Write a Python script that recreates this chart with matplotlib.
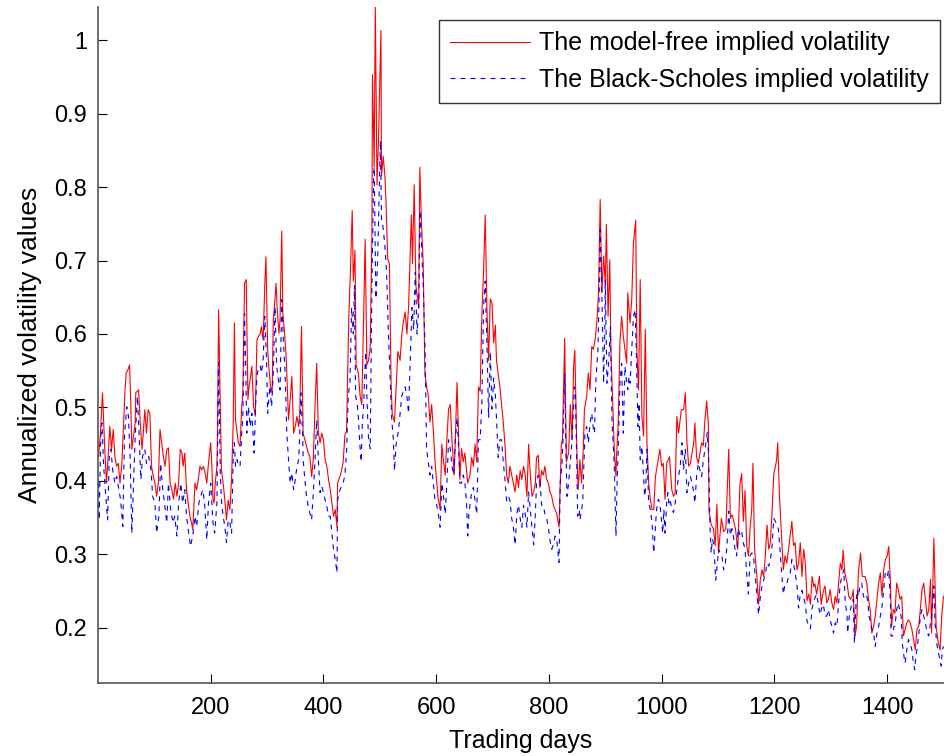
import numpy as np
import matplotlib
matplotlib.use("Agg")
import matplotlib.pyplot as plt

plt.rcParams['font.family'] = ['Liberation Sans', 'DejaVu Sans']

# model-free implied volatility (red)
mf_days = [1, 4, 8, 12, 15, 18, 21, 24, 27, 30, 33, 36, 39, 42, 45, 48, 50, 53, 56, 58, 60, 63, 66, 67, 72, 75, 78, 80, 83, 86, 89, 92, 95, 98, 101, 104, 107, 110, 113, 116, 119, 122, 125, 128, 131, 134, 137, 140, 143, 146, 149, 151, 154, 157, 160, 163, 166, 168, 170, 172, 175, 178, 181, 184, 187, 190, 193, 196, 200, 202, 204, 206, 208, 211, 212, 214,
           219, 222, 225, 228, 231, 234, 237, 240, 242, 244, 247, 249, 252, 255, 257, 260, 263, 266, 268, 270, 273, 276, 279, 282, 285, 288, 290, 293, 296, 298, 301, 303, 306, 309, 311, 314, 316, 318, 321, 323, 326, 328, 331, 333, 335, 338, 341, 344, 347, 350, 353, 356, 358, 361, 364, 367, 370, 373, 376, 379, 382, 385, 388, 391, 394, 397, 400, 403, 406, 409, 412, 415, 418, 421,
           424, 425, 430, 432, 435, 438, 441, 445, 448, 451, 453, 456, 458, 462, 465, 468, 471, 474, 477, 480, 483, 486, 487, 490, 492, 495, 498, 502, 503, 506, 509, 511, 514, 517, 520, 522, 526, 529, 532, 536, 539, 542, 545, 548, 551, 556, 558, 561, 564, 569, 571, 574, 577, 580, 583, 586, 589, 592, 595, 598, 603, 607, 610, 613, 616, 619, 622, 625, 628, 632, 637, 640, 642, 645, 648,
           651, 656, 660, 663, 666, 669, 672, 675, 678, 681, 684, 687, 690, 693, 696, 699, 702, 705, 707, 710, 713, 716, 719, 722, 725, 728, 731, 734, 737, 740, 743, 746, 749, 752, 755, 758, 761, 764, 767, 770, 773, 776, 778, 781, 784, 787, 790, 793, 796, 799, 802, 805, 808, 811, 814, 818, 822, 824, 828, 831, 835, 838, 841, 844, 846,
           850, 852, 855, 858, 861, 863, 867, 870, 873, 876, 879, 882, 885, 888, 891, 894, 897, 900, 902, 905, 908, 910, 913, 916, 919, 920, 923, 926, 929, 932, 935, 938, 940, 944, 947, 950, 954, 956, 959, 962, 965, 968, 971, 974, 977, 980, 983, 986, 989, 993, 997, 1000, 1003, 1006, 1009, 1014, 1018, 1021, 1024, 1027, 1030, 1035, 1039, 1042, 1045, 1048, 1051, 1054, 1057, 1059, 1062, 1065, 1071,
           1074, 1077, 1080, 1083, 1084, 1088, 1092, 1095, 1098, 1101, 1106, 1110, 1114, 1119, 1122, 1125, 1128, 1131, 1135, 1139, 1142, 1145, 1148, 1151, 1154, 1157, 1160, 1162, 1165, 1169, 1172, 1175, 1178, 1181, 1184, 1187, 1190, 1193, 1196, 1199, 1202, 1204, 1206, 1209, 1212, 1216, 1219, 1222, 1226, 1231, 1234, 1237, 1240, 1243, 1246, 1249, 1252, 1255, 1258, 1261, 1264, 1267, 1270, 1272, 1275, 1280, 1283, 1287,
           1290, 1293, 1296, 1299, 1302, 1305, 1308, 1311, 1314, 1317, 1320, 1322, 1325, 1329, 1332, 1335, 1338, 1340, 1343, 1346, 1349, 1353, 1356, 1361, 1364, 1367, 1370, 1373, 1376, 1379, 1382, 1385, 1388, 1391, 1394, 1397, 1400, 1403, 1406, 1408, 1411, 1414, 1417, 1420, 1423, 1426, 1429, 1432, 1435, 1438, 1441, 1444, 1447, 1450, 1453, 1456, 1459, 1462, 1465, 1468, 1471, 1474, 1477, 1479, 1483, 1487, 1491, 1494, 1497, 1500]
mf_vals = [.433, .461, .520, .443, .397, .433, .474, .443, .470, .433, .420, .424, .397, .420, .470, .524, .547, .551, .558, .511, .443, .461, .479, .520, .524, .479, .443, .461, .497, .465, .497, .492, .420, .406, .397, .379, .397, .470, .452, .433, .420, .443, .445, .397, .388, .375, .397, .379, .397, .443, .438, .420, .438, .388, .370, .352, .343, .334, .361, .397, .388, .402, .420, .415, .420, .411, .397, .424, .452, .420, .375, .370, .397, .420, .465, .633,
           .415, .397, .374, .347, .374, .361, .402, .483, .615, .483, .465, .452, .447, .502, .520, .669, .674, .511, .529, .538, .556, .502, .488, .592, .597, .601, .610, .592, .669, .705, .579, .556, .529, .520, .619, .647, .669, .633, .601, .619, .740, .628, .601, .579, .547, .483, .511, .542, .465, .474, .488, .474, .492, .610, .465, .456, .447, .438, .433, .406, .429, .502, .560, .465, .452, .465, .456, .429, .420, .402, .388, .370, .352, .361,
           .337, .397, .408, .414, .426, .462, .468, .624, .690, .768, .672, .714, .558, .546, .516, .504, .612, .729, .558, .564, .582, .738, .953, .827, 1.046, .803, .875, 1.013, .815, .842, .815, .780, .702, .696, .534, .492, .480, .528, .576, .564, .600, .618, .630, .600, .636, .762, .696, .803, .666, .636, .827, .750, .696, .546, .528, .516, .480, .504, .468, .426, .379, .361, .450, .426, .408, .456, .498, .504, .456, .408, .534, .456, .402, .444, .426,
           .438, .397, .408, .432, .420, .450, .426, .528, .522, .624, .684, .762, .636, .564, .648, .642, .588, .612, .564, .546, .528, .504, .480, .450, .408, .397, .420, .408, .397, .385, .408, .391, .414, .402, .420, .408, .379, .450, .408, .379, .385, .397, .432, .435, .391, .414, .408, .420, .402, .397, .385, .379, .367, .361, .355, .337, .450, .456, .594, .426, .438, .504, .456, .558, .578,
           .429, .388, .429, .397, .443, .497, .515, .547, .524, .583, .579, .592, .615, .656, .783, .656, .706, .669, .749, .624, .701, .579, .511, .443, .406, .433, .479, .588, .624, .597, .579, .560, .656, .615, .647, .724, .755, .579, .524, .674, .488, .461, .606, .452, .397, .375, .361, .361, .406, .424, .443, .420, .424, .375, .424, .433, .388, .379, .384, .488, .465, .497, .497, .520, .452, .420, .424, .438, .452, .479, .433, .424, .452,
           .448, .485, .509, .476, .359, .340, .335, .312, .368, .302, .349, .331, .335, .443, .349, .354, .345, .335, .307, .396, .410, .345, .387, .312, .298, .335, .363, .424, .307, .270, .232, .265, .279, .270, .298, .340, .307, .316, .359, .410, .420, .429, .452, .382, .335, .279, .298, .288, .312, .345, .312, .316, .279, .288, .316, .270, .307, .288, .237, .246, .232, .270, .256, .260, .246, .270, .232, .251,
           .257, .234, .239, .252, .234, .225, .243, .234, .261, .288, .279, .306, .275, .261, .243, .239, .243, .252, .189, .202, .275, .302, .270, .270, .261, .239, .225, .193, .202, .216, .239, .261, .275, .243, .279, .293, .297, .311, .261, .202, .225, .220, .261, .252, .239, .243, .189, .198, .207, .211, .207, .198, .184, .170, .198, .202, .225, .252, .261, .239, .216, .225, .266, .193, .322, .202, .179, .170, .216, .243]

# Black-Scholes implied volatility (blue dashed)
bs_days = [1, 2, 5, 7, 10, 13, 17, 20, 23, 26, 30, 33, 37, 40, 44, 47, 51, 54, 57, 60, 63, 66, 70, 73, 76, 79, 83, 86, 90, 94, 97, 101, 104, 108, 111, 115, 118, 122, 125, 129, 133, 136, 140, 143, 147, 150, 154, 157, 161, 164, 168, 172, 175, 179, 182, 186, 189, 193, 196, 200, 204, 207, 211, 214,
           217, 219, 222, 225, 228, 231, 234, 237, 240, 242, 244, 247, 249, 252, 255, 257, 260, 262, 264, 267, 270, 273, 275, 277, 280, 282, 285, 288, 290, 293, 296, 299, 301, 305, 308, 311, 314, 317, 320, 323, 326, 329, 332, 335, 338, 341, 344, 347, 350, 353, 356, 358, 360, 363, 364, 367, 370, 373, 376, 379, 382, 385, 388, 391, 394, 397, 400, 403, 406, 409, 412, 415, 418, 421, 424,
           425, 428, 431, 435, 438, 441, 444, 447, 450, 453, 455, 457, 460, 462, 464, 467, 469, 471, 473, 475, 477, 480, 483, 486, 489, 490, 493, 496, 501, 503, 506, 509, 512, 515, 518, 521, 524, 526, 529, 533, 536, 539, 542, 545, 548, 551, 554, 557, 560, 563, 566, 569, 571, 574, 577, 580, 583, 586, 589, 592, 595, 598, 601, 604, 607, 610, 613, 616, 619, 622, 625, 628, 631, 634, 637, 640, 642, 645, 648,
           651, 654, 656, 658, 660, 663, 666, 669, 672, 675, 678, 681, 684, 687, 690, 693, 696, 699, 702, 705, 707, 710, 713, 716, 719, 722, 725, 728, 731, 734, 737, 740, 743, 746, 749, 752, 755, 758, 761, 764, 767, 770, 773, 776, 778, 781, 784, 787, 790, 793, 796, 799, 802, 805, 808, 811, 814, 818, 820, 823, 825, 828, 830, 832, 835, 838, 841, 844, 845, 847,
           849, 851, 854, 855, 860, 862, 864, 867, 870, 873, 876, 879, 881, 883, 885, 887, 889, 891, 893, 894, 897, 899, 900, 903, 906, 909, 912, 914, 916, 919, 921, 923, 926, 929, 932, 935, 938, 940, 942, 944, 947, 950, 953, 955, 958, 960, 962, 965, 968, 970, 972, 974, 977, 980, 983, 986, 989, 991, 994, 997, 999, 1002, 1004, 1006, 1009, 1011, 1013, 1015, 1018, 1021, 1024, 1027, 1030, 1033, 1036, 1039, 1042, 1045, 1048, 1051, 1054, 1057, 1059, 1062, 1065, 1068, 1071,
           1074, 1077, 1081, 1083, 1084, 1086, 1088, 1090, 1092, 1094, 1096, 1099, 1101, 1104, 1107, 1110, 1113, 1116, 1119, 1122, 1125, 1128, 1131, 1133, 1136, 1139, 1142, 1145, 1148, 1151, 1154, 1157, 1160, 1163, 1166, 1169, 1172, 1175, 1178, 1181, 1184, 1187, 1190, 1193, 1196, 1199, 1202, 1204, 1207, 1210, 1213, 1216, 1219, 1222, 1225, 1228, 1231, 1234, 1237, 1240, 1243, 1246, 1249, 1252, 1255, 1258, 1261, 1264, 1267, 1270, 1272, 1275, 1278, 1281, 1284, 1287,
           1290, 1293, 1296, 1299, 1302, 1305, 1308, 1311, 1314, 1317, 1320, 1323, 1326, 1329, 1330, 1333, 1335, 1338, 1340, 1342, 1345, 1347, 1349, 1352, 1355, 1358, 1361, 1364, 1366, 1368, 1371, 1373, 1376, 1379, 1382, 1385, 1388, 1391, 1394, 1397, 1400, 1403, 1406, 1407, 1410, 1412, 1414, 1417, 1420, 1423, 1425, 1427, 1430, 1432, 1435, 1438, 1441, 1444, 1446, 1449, 1451, 1453, 1456, 1459, 1462, 1465, 1468, 1471, 1474, 1477, 1479, 1483, 1485, 1488, 1491, 1494, 1496, 1498, 1500]
bs_vals = [.397, .347, .461, .479, .420, .388, .347, .433, .443, .415, .397, .406, .388, .375, .338, .461, .501, .488, .433, .329, .397, .461, .515, .461, .402, .433, .443, .424, .433, .415, .379, .370, .329, .352, .424, .388, .370, .343, .397, .361, .343, .352, .325, .370, .397, .370, .388, .352, .329, .311, .325, .352, .338, .370, .379, .388, .370, .320, .370, .397, .343, .329, .370, .561,
           .411, .374, .352, .338, .316, .347, .343, .329, .438, .452, .420, .429, .420, .420, .465, .488, .628, .556, .465, .501, .474, .492, .465, .438, .511, .542, .556, .556, .547, .565, .624, .565, .492, .529, .501, .547, .637, .556, .538, .524, .647, .588, .547, .465, .429, .397, .411, .388, .402, .420, .429, .465, .520, .465, .429, .402, .379, .365, .356, .347, .384, .429, .483, .429, .384, .393, .384, .374, .365, .352, .352, .329, .306, .293, .275,
           .373, .385, .391, .397, .408, .438, .516, .534, .636, .600, .666, .516, .504, .486, .456, .426, .480, .498, .540, .576, .516, .456, .444, .666, .815, .827, .648, .696, .863, .756, .744, .720, .684, .606, .546, .486, .456, .414, .450, .468, .492, .516, .522, .528, .516, .492, .564, .636, .606, .684, .600, .636, .768, .720, .666, .588, .444, .426, .408, .420, .397, .373, .367, .355, .337, .397, .379, .355, .397, .456, .444, .420, .408, .456, .486, .444, .397, .397, .408,
           .397, .367, .325, .355, .367, .385, .391, .373, .355, .456, .456, .504, .636, .672, .588, .486, .576, .498, .540, .516, .486, .432, .456, .456, .426, .402, .373, .379, .373, .349, .337, .313, .355, .367, .349, .337, .367, .355, .337, .385, .361, .337, .313, .355, .397, .408, .402, .367, .367, .355, .349, .337, .319, .307, .313, .325, .319, .289, .397, .420, .456, .546, .456, .379, .397, .426, .456, .504, .528, .520,
           .443, .352, .361, .347, .370, .420, .465, .474, .452, .479, .492, .470, .465, .533, .556, .579, .647, .742, .678, .656, .533, .597, .674, .533, .560, .610, .479, .452, .420, .325, .397, .443, .533, .560, .465, .556, .533, .524, .542, .533, .579, .624, .633, .579, .474, .506, .429, .447, .406, .379, .393, .443, .370, .361, .343, .302, .338, .361, .375, .370, .352, .329, .361, .329, .370, .384, .370, .375, .361, .357, .370, .388, .406, .420, .452, .415, .443, .384, .397, .406, .397, .384, .370, .406, .424, .415, .406,
           .429, .443, .466, .438, .406, .335, .302, .321, .316, .293, .265, .288, .307, .302, .298, .279, .288, .312, .359, .326, .335, .321, .302, .298, .335, .326, .331, .316, .307, .274, .246, .298, .302, .298, .270, .246, .218, .241, .256, .265, .274, .288, .284, .293, .312, .349, .345, .340, .335, .307, .274, .246, .260, .260, .270, .274, .293, .288, .274, .260, .227, .246, .251, .241, .232, .209, .204, .199, .227, .237, .241, .246, .232, .218, .227, .232,
           .216, .216, .225, .211, .202, .193, .207, .202, .234, .261, .270, .279, .234, .216, .193, .216, .225, .234, .239, .179, .234, .252, .243, .257, .261, .243, .239, .243, .234, .216, .207, .198, .193, .175, .193, .202, .216, .229, .252, .275, .270, .279, .234, .189, .189, .202, .202, .225, .234, .220, .216, .179, .161, .152, .170, .184, .179, .170, .157, .143, .161, .170, .189, .216, .225, .216, .207, .193, .189, .207, .216, .257, .207, .179, .166, .157, .148, .170, .175]

x_ticks = [200, 400, 600, 800, 1000, 1200, 1400]
y_ticks = [0.2, 0.3, 0.4, 0.5, 0.6, 0.7, 0.8, 0.9, 1.0]
y_tick_labels = ['0.2', '0.3', '0.4', '0.5', '0.6', '0.7', '0.8', '0.9', '1']

fig = plt.figure(figsize=(9.44, 7.56), dpi=100)
ax = fig.add_axes([98 / 944, 73 / 756, 1 - 98 / 944, 676 / 756])

ax.plot(mf_days, mf_vals, color='red', lw=0.8, label='The model-free implied volatility')
ax.plot(bs_days, bs_vals, color='blue', lw=0.8, linestyle=(0, (4.5, 4.5)),
        label='The Black-Scholes implied volatility')

ax.set_xlim(0, 1501)
ax.set_ylim(0.125, 1.045)
ax.set_xticks(x_ticks)
ax.set_yticks(y_ticks)
ax.set_yticklabels(y_tick_labels)
ax.tick_params(direction='in', length=6.5, width=0.8, labelsize=17, colors='black')
ax.tick_params(axis='x', pad=10)
ax.tick_params(axis='y', pad=8)
for s in ['top', 'right']:
    ax.spines[s].set_visible(False)
for s in ['left', 'bottom']:
    ax.spines[s].set_color('#555555')
    ax.spines[s].set_linewidth(1.2)

ax.set_xlabel('Trading days', fontsize=18, labelpad=7)
ax.set_ylabel('Annualized volatility values', fontsize=19, labelpad=9)

leg = ax.legend(loc='upper right', bbox_to_anchor=(940 / 944, 1 - 20 / 756),
                bbox_transform=fig.transFigure, fontsize=18, frameon=True,
                fancybox=False, borderaxespad=0, handlelength=3.2, handletextpad=0.35,
                borderpad=0.45, labelspacing=0.5)
leg.get_frame().set_edgecolor('black')
leg.get_frame().set_linewidth(1.0)

fig.savefig('out.png', dpi=100)
